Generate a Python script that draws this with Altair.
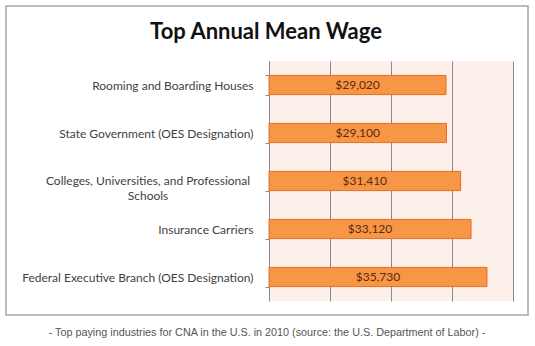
import altair as alt
import pandas as pd

industries = [
    "Rooming and Boarding Houses",
    "State Government (OES Designation)",
    "Colleges, Universities, and Professional Schools",
    "Insurance Carriers",
    "Federal Executive Branch (OES Designation)",
]
wages = [29020, 29100, 31410, 33120, 35730]
x_ticks = [0, 10000, 20000, 30000, 40000]
wrapped_label = "Colleges, Universities, and Professional|Schools"
title_text = "Top Annual Mean Wage"
footnote_text = "- Top paying industries for CNA in the U.S. in 2010 (source: the U.S. Department of Labor) -"

df = pd.DataFrame({"industry": industries, "wage": wages})
df["half"] = df["wage"] / 2
df["label"] = df["wage"].map(lambda v: f"${v:,.0f}")

label_expr = (
    "datum.label == 'Colleges, Universities, and Professional Schools' ? '' : datum.label"
)

xscale = alt.Scale(domain=[0, 40000], nice=False)
yscale = alt.Scale(domain=industries, paddingInner=0.6, paddingOuter=0.3)

base = alt.Chart(df)

bars = base.mark_bar(fill="#F79646", stroke="#E2701E", strokeWidth=1).encode(
    x=alt.X(
        "wage:Q",
        scale=xscale,
        axis=alt.Axis(
            values=x_ticks,
            labels=False,
            ticks=False,
            domain=False,
            title=None,
            grid=True,
            gridColor="#8a8a8a",
            gridWidth=1,
        ),
    ),
    y=alt.Y(
        "industry:N",
        scale=yscale,
        sort=industries,
        axis=alt.Axis(
            title=None,
            labelExpr=label_expr,
            labelFont="Lato",
            labelFontSize=12,
            labelColor="#3f3f3f",
            labelPadding=12,
            labelLimit=300,
            tickBand="extent",
            tickSize=4,
            tickColor="#8a8a8a",
            domainColor="#8a8a8a",
        ),
    ),
)

texts = base.mark_text(
    font="Lato", fontSize=12, color="#5a2a0c", baseline="middle", align="center"
).encode(
    x=alt.X("half:Q", scale=xscale),
    y=alt.Y("industry:N", scale=yscale, sort=industries),
    text="label:N",
)

wrap_df = pd.DataFrame({"industry": [industries[2]], "txt": [wrapped_label]})
wrapped = alt.Chart(wrap_df).mark_text(
    font="Lato", fontSize=12, color="#3f3f3f", align="center", baseline="middle",
    lineBreak="|", lineHeight=15,
).encode(
    x=alt.value(-121),
    y=alt.Y("industry:N", scale=yscale, sort=industries),
    text="txt:N",
)

frame = alt.Chart(pd.DataFrame({"a": [0]})).mark_rect(
    fill=None, stroke="#a6a6a6", strokeWidth=1.5
).encode(
    x=alt.value(-263), x2=alt.value(259), y=alt.value(-55), y2=alt.value(254)
)

title = alt.Chart(pd.DataFrame({"t": [title_text]})).mark_text(
    font="Lato", fontSize=22, fontWeight="bold", color="#111111",
    align="center", baseline="alphabetic"
).encode(x=alt.value(-3), y=alt.value(-22), text="t:N")

foot = alt.Chart(pd.DataFrame({"t": [footnote_text]})).mark_text(
    font="Liberation Sans", fontSize=10.8, color="#555555",
    align="center", baseline="middle"
).encode(x=alt.value(-2), y=alt.value(272), text="t:N")

chart = alt.layer(frame, bars, texts, wrapped, title, foot).properties(
    width=244,
    height=240,
    autosize=alt.AutoSizeParams(type="none"),
    padding={"left": 269, "top": 61, "right": 22, "bottom": 45},
    background="white",
).configure_view(fill="#FDF0EA", stroke=None)

chart.save("out.html", embed_options={"renderer": "svg", "actions": False})
